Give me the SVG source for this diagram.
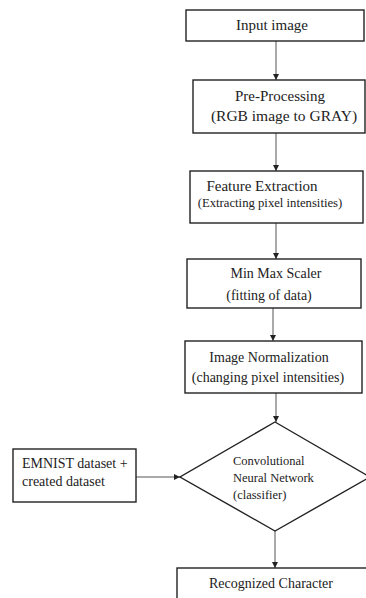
<svg xmlns="http://www.w3.org/2000/svg" width="366" height="598" viewBox="0 0 366 598">
<defs>
<style>
.box{fill:#fff;stroke:#222;stroke-width:1.4}
.t{font-family:"Liberation Serif","Times New Roman",serif;fill:#222;font-size:14px}
.c{text-anchor:middle}
.edge{stroke:#555;stroke-width:1;fill:none;marker-end:url(#ah)}
</style>
<marker id="ah" markerWidth="6" markerHeight="6" refX="6" refY="3" orient="auto" markerUnits="userSpaceOnUse">
<path d="M0,0 L6,3 L0,6 Z" fill="#222"/>
</marker>
</defs>
<rect width="366" height="598" fill="#fff"/>
<g id="connectors">
<line class="edge" x1="276" y1="41" x2="276" y2="80"/>
<line class="edge" x1="276" y1="133" x2="276" y2="171"/>
<line class="edge" x1="276" y1="223" x2="276" y2="259"/>
<line class="edge" x1="273" y1="308" x2="273" y2="341"/>
<line class="edge" x1="276" y1="393" x2="276" y2="422"/>
<line class="edge" x1="136" y1="477" x2="180" y2="477"/>
<line class="edge" x1="275" y1="531" x2="275" y2="568"/>
</g>
<g id="input">
<rect class="box" x="186" y="10" width="178" height="31"/>
<text class="t c" x="272" y="30" style="font-size:15px">Input image</text>
</g>
<g id="preprocessing">
<rect class="box" x="193" y="80" width="172" height="53"/>
<text class="t c" x="280" y="101" style="font-size:15px">Pre-Processing</text>
<text class="t c" x="284" y="121" style="font-size:15.5px">(RGB image to GRAY)</text>
</g>
<g id="feature">
<rect class="box" x="190" y="171" width="173" height="52"/>
<text class="t c" x="262" y="191" style="font-size:15px">Feature Extraction</text>
<text class="t c" x="270" y="207" style="font-size:12.7px">(Extracting pixel intensities)</text>
</g>
<g id="minmax">
<rect class="box" x="187" y="259" width="174" height="49"/>
<text class="t c" x="276" y="278">Min Max Scaler</text>
<text class="t c" x="269" y="300">(fitting of data)</text>
</g>
<g id="normalization">
<rect class="box" x="185" y="341" width="177" height="52"/>
<text class="t c" x="269" y="362">Image Normalization</text>
<text class="t c" x="268" y="382">(changing pixel intensities)</text>
</g>
<g id="emnist">
<rect class="box" x="13" y="449" width="123" height="53"/>
<text class="t" x="22" y="468">EMNIST dataset +</text>
<text class="t" x="22" y="486">created dataset</text>
</g>
<g id="cnn">
<polygon class="box" points="275,422 370,477 275,531 180,477"/>
<text class="t" x="233" y="465" style="font-size:12.5px">Convolutional</text>
<text class="t" x="233" y="482" style="font-size:12.5px">Neural Network</text>
<text class="t" x="233" y="499" style="font-size:12.5px">(classifier)</text>
</g>
<g id="recognized">
<rect class="box" x="177" y="568" width="200" height="40"/>
<text class="t" x="209" y="588">Recognized Character</text>
</g>
</svg>
